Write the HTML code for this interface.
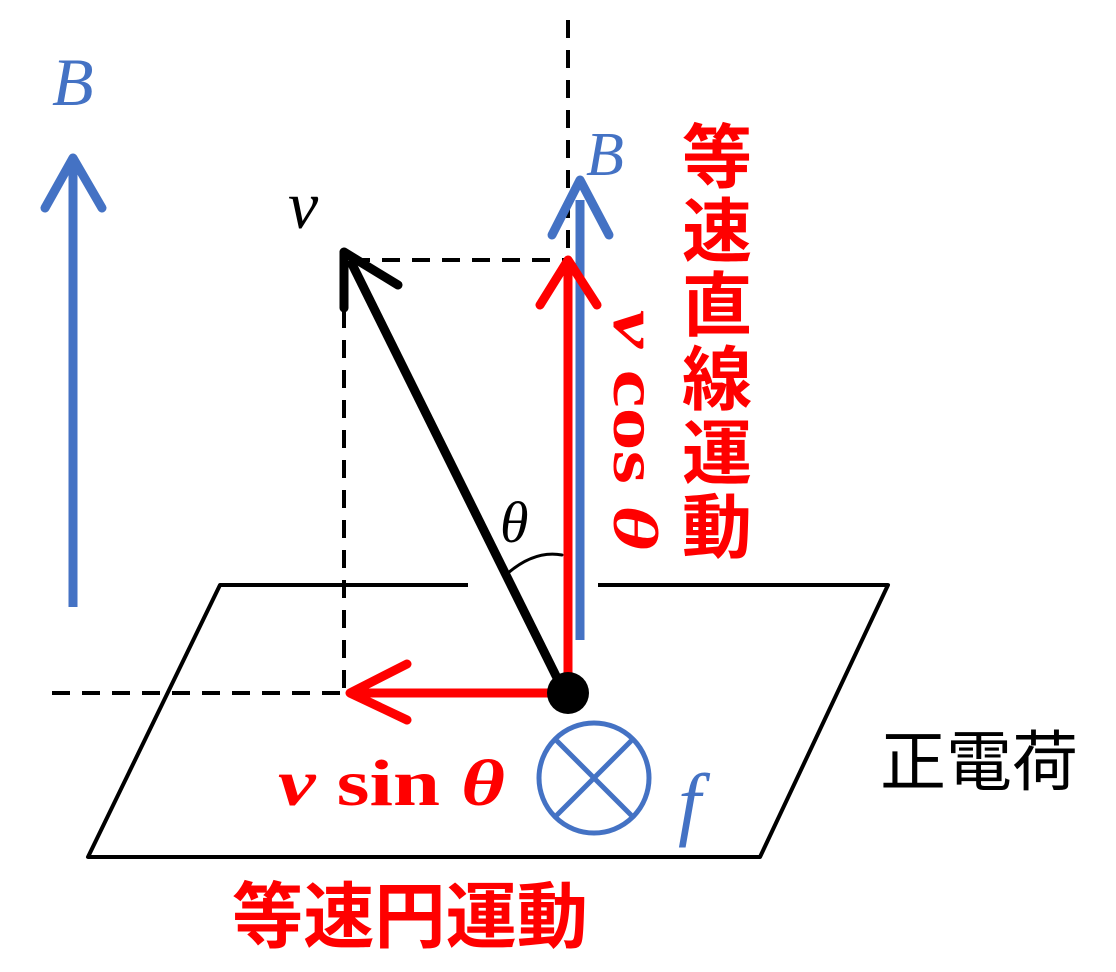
<!DOCTYPE html>
<html><head><style>body{margin:0;background:#fff}svg{display:block}</style></head><body>
<svg width="1116" height="972" viewBox="0 0 1116 972" xmlns="http://www.w3.org/2000/svg">
<g fill="none" stroke-linecap="round" stroke-linejoin="round">
<polyline points="468,585 220,585 88,857 760,857 888,585 598,585" stroke="#000" stroke-width="4" stroke-linecap="butt"/>
<g stroke="#000" stroke-width="4" stroke-dasharray="18,12" stroke-linecap="butt">
<line x1="568" y1="20" x2="568" y2="255"/>
<line x1="352" y1="260" x2="568" y2="260"/>
<line x1="344" y1="310" x2="344" y2="693"/>
<line x1="52" y1="693" x2="344" y2="693"/>
</g>
<line x1="73" y1="607" x2="73" y2="158" stroke="#4472C4" stroke-width="9" stroke-linecap="butt"/>
<polyline points="45,208 73,158 102,208" stroke="#4472C4" stroke-width="9"/>
<line x1="580" y1="640" x2="580" y2="200" stroke="#4472C4" stroke-width="9" stroke-linecap="butt"/>
<polyline points="552,235 580,180 609,235" stroke="#4472C4" stroke-width="9"/>
<line x1="568" y1="693" x2="568" y2="262" stroke="#FF0000" stroke-width="9" stroke-linecap="butt"/>
<polyline points="540,305 568,260 597,305" stroke="#FF0000" stroke-width="9"/>
<line x1="568" y1="693" x2="350" y2="693" stroke="#FF0000" stroke-width="9" stroke-linecap="butt"/>
<polyline points="407,664 350,693 407,720" stroke="#FF0000" stroke-width="9"/>
<line x1="563" y1="690" x2="350" y2="260" stroke="#000" stroke-width="9" stroke-linecap="butt"/>
<polyline points="398,285 344,252 344,308" stroke="#000" stroke-width="9"/>
<path d="M508,573 Q535,550 562,555" stroke="#000" stroke-width="3"/>
<circle cx="594" cy="778" r="55" stroke="#4472C4" stroke-width="5"/>
<line x1="557" y1="741" x2="631" y2="815" stroke="#4472C4" stroke-width="5"/>
<line x1="631" y1="741" x2="557" y2="815" stroke="#4472C4" stroke-width="5"/>
</g>
<circle cx="568" cy="693" r="21" fill="#000"/>
<g font-family="Liberation Serif, serif" font-style="italic">
<text x="52" y="105" font-size="68" fill="#4472C4">B</text>
<text x="586" y="175" font-size="62" fill="#4472C4">B</text>
<text x="288" y="228" font-size="68" fill="#000">v</text>
<text x="500" y="542" font-size="58" fill="#000">θ</text>
<text x="678" y="830" font-size="82" fill="#4472C4">f</text>
</g>
<text x="278" y="805" font-family="Liberation Serif, serif" font-weight="bold" font-size="66" fill="#FF0000" textLength="227" lengthAdjust="spacingAndGlyphs"><tspan font-style="italic">v</tspan> sin <tspan font-style="italic">θ</tspan></text>
<text transform="translate(614,310) rotate(90)" font-family="Liberation Serif, serif" font-weight="bold" font-size="64" fill="#FF0000" textLength="240" lengthAdjust="spacingAndGlyphs"><tspan font-style="italic">v</tspan> cos <tspan font-style="italic">θ</tspan></text>
<g font-family="Liberation Sans, Noto Sans CJK JP, sans-serif" fill="#FF0000" font-weight="bold" font-size="70">
<text x="682" y="182">等</text>
<text x="682" y="256">速</text>
<text x="682" y="330">直</text>
<text x="682" y="404">線</text>
<text x="682" y="478">運</text>
<text x="682" y="552">動</text>
<text x="232" y="942" textLength="356" lengthAdjust="spacingAndGlyphs" font-size="72">等速円運動</text>
</g>
<text x="880" y="785" font-family="Liberation Sans, Noto Sans CJK JP, sans-serif" font-size="66" fill="#000">正電荷</text>
</svg>
</body></html>
